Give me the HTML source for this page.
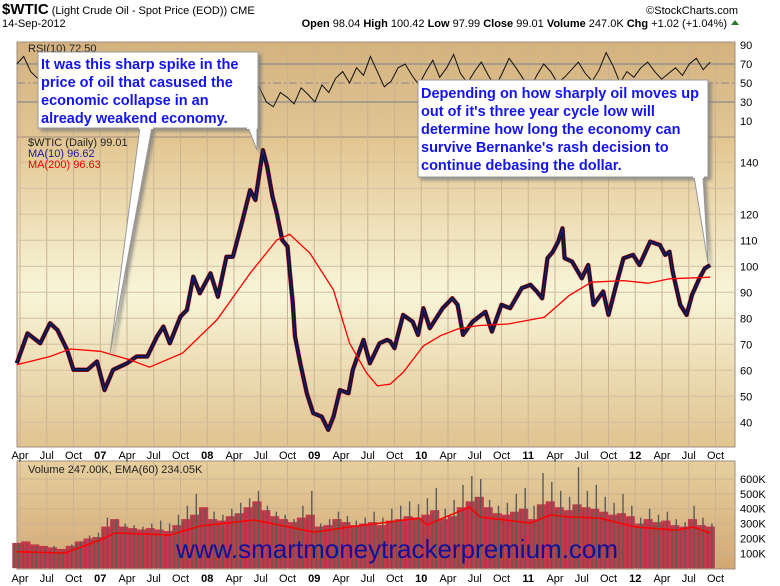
<!DOCTYPE html>
<html><head><meta charset="utf-8"><style>
body{margin:0;background:#fff;width:780px;height:586px;overflow:hidden;font-family:"Liberation Sans",sans-serif}
svg{display:block}
.t{font-family:"Liberation Sans",sans-serif;font-size:11px;fill:#000}
.b{font-weight:bold}
.call{font-family:"Liberation Sans",sans-serif;font-weight:bold;font-size:14.5px;fill:#1414f0}
</style></head><body>
<svg id="c" width="780" height="586" xmlns="http://www.w3.org/2000/svg">
<defs>
<linearGradient id="gR" x1="0" y1="0" x2="0" y2="1"><stop offset="0" stop-color="#d4b27e"/><stop offset="1" stop-color="#e0c595"/></linearGradient>
<linearGradient id="gP" x1="0" y1="0" x2="0" y2="1"><stop offset="0" stop-color="#e2c590"/><stop offset="0.5" stop-color="#f8f5d8"/><stop offset="1" stop-color="#e0c390"/></linearGradient>
<linearGradient id="gV" x1="0" y1="0" x2="0" y2="1"><stop offset="0" stop-color="#e6cf9f"/><stop offset="1" stop-color="#d2a874"/></linearGradient>
<filter id="sh" x="-5%" y="-5%" width="115%" height="120%"><feDropShadow dx="3" dy="3" stdDeviation="1.5" flood-color="#777" flood-opacity="0.7"/></filter>
</defs>
<g id="head">
<text x="2" y="14" class="t"><tspan style="font-size:15px;font-weight:bold">$WTIC</tspan><tspan font-size="11"> (Light Crude Oil - Spot Price (EOD)) CME</tspan></text>
<text x="2" y="27" class="t">14-Sep-2012</text>
<text x="738" y="14" class="t" text-anchor="end" fill="#555">©StockCharts.com</text>
<text x="727" y="27" class="t" text-anchor="end"><tspan class="b">Open</tspan> 98.04 <tspan class="b">High</tspan> 100.42 <tspan class="b">Low</tspan> 97.99 <tspan class="b">Close</tspan> 99.01 <tspan class="b">Volume</tspan> 247.0K <tspan class="b">Chg</tspan> +1.02 (+1.04%)</text>
<polygon points="731,25 739,25 735,20" fill="#2a7a2a"/>
</g>
<rect x="17" y="42" width="718" height="95" fill="url(#gR)" stroke="#a08c80"/>
<rect x="17" y="137" width="718" height="310" fill="url(#gP)" stroke="#a08c80"/>
<rect x="17" y="461" width="718" height="108" fill="url(#gV)" stroke="#a08c80"/>
<g id="grid"></g><g id="marks"></g><g id="labels"></g>
<g id="callouts">
<g filter="url(#sh)">
<polygon points="140,127 152,127 110,354" fill="#fff" stroke="#999"/>
<polygon points="248,127 257,127 257,150" fill="#fff" stroke="#999"/>
<rect x="38" y="52" width="220" height="76" fill="#fff" stroke="#999"/>
</g>
<rect x="139" y="126" width="14" height="3" fill="#fff"/><rect x="247" y="126" width="10" height="3" fill="#fff"/>
<text class="call"><tspan x="41" y="69">It was this sharp spike in the</tspan><tspan x="41" y="87">price of oil that casused the</tspan><tspan x="41" y="105">economic collapse in an</tspan><tspan x="41" y="123">already weakend economy.</tspan></text>
<g filter="url(#sh)">
<polygon points="694,176 703,176 708,263" fill="#fff" stroke="#999"/>
<rect x="418" y="80" width="290" height="97" fill="#fff" stroke="#999"/>
</g>
<rect x="693" y="175" width="11" height="3" fill="#fff"/>
<text class="call"><tspan x="421" y="98">Depending on how sharply oil moves up</tspan><tspan x="421" y="116">out of it's three year cycle low will</tspan><tspan x="421" y="134">determine how long the economy can</tspan><tspan x="421" y="152">survive Bernanke's rash decision to</tspan><tspan x="421" y="170">continue debasing the dollar.</tspan></text>
</g>
<text x="397" y="558" text-anchor="middle" style="font-family:'Liberation Sans',sans-serif;font-size:26px" fill="#10109a">www.smartmoneytrackerpremium.com</text>
</svg>
<script>
// ---- data ----
const priceDates=[2006.22,2006.32,2006.44,2006.53,2006.60,2006.69,2006.75,2006.88,2006.97,2007.04,2007.12,2007.25,2007.34,2007.44,2007.53,2007.59,2007.65,2007.75,2007.81,2007.87,2007.93,2008.03,2008.10,2008.18,2008.24,2008.33,2008.40,2008.45,2008.52,2008.56,2008.61,2008.65,2008.70,2008.75,2008.77,2008.80,2008.82,2008.87,2008.93,2008.99,2009.07,2009.13,2009.18,2009.24,2009.32,2009.36,2009.46,2009.52,2009.61,2009.68,2009.71,2009.75,2009.83,2009.92,2009.97,2010.02,2010.08,2010.20,2010.29,2010.34,2010.39,2010.48,2010.60,2010.66,2010.75,2010.83,2010.94,2011.02,2011.08,2011.13,2011.18,2011.23,2011.28,2011.32,2011.34,2011.41,2011.50,2011.56,2011.61,2011.70,2011.75,2011.83,2011.89,2011.98,2012.04,2012.14,2012.23,2012.28,2012.32,2012.35,2012.42,2012.48,2012.53,2012.60,2012.65,2012.70];
const priceValues=[62.7,74.2,70.4,78.1,75.5,67.9,60.2,60.2,63.4,52.4,60.2,62.7,65.3,65.3,73,76.8,70.4,80.7,83.2,96,89.6,97.3,88.3,103.7,103.7,117.8,129.3,125.5,144.7,138.3,126.8,120.4,110.1,107.6,98.6,85.8,73,62.7,51.2,43.5,42.2,37.1,42.2,52.4,51.2,60.2,71.7,62.7,70.4,71.7,71.1,68.5,81.3,78.7,73.6,83.9,76.2,83.9,87.7,85.2,73.6,78.7,82.5,74.9,85.2,83.9,91.6,92.9,90.3,87.7,103.1,105.6,109.5,114.6,103.1,101.8,95.4,100.5,85.2,90.3,81.3,94.1,103.1,104.4,100.5,109.5,108.2,104.4,105.6,97.9,85.2,81.3,89,95.4,99.2,100.5];
const ma200Dates=[2006.22,2006.53,2006.72,2007.00,2007.28,2007.46,2007.77,2008.09,2008.40,2008.65,2008.77,2008.96,2009.18,2009.33,2009.49,2009.59,2009.71,2009.83,2010.02,2010.18,2010.34,2010.53,2010.81,2011.15,2011.38,2011.59,2011.89,2012.12,2012.32,2012.70];
const ma200Values=[62.1,65.3,68.2,67.3,64,61.2,66.6,79.4,97.3,110.1,112.3,105,90.9,70.4,58.9,54,54.7,59.2,69.4,73.3,75.9,77.2,77.8,80.4,88.7,93.9,94.5,93.5,95.2,95.8];
const rsiValues=[70,78,62,55,48,45,38,52,60,66,58,50,62,70,55,45,60,72,66,55,48,40,58,70,62,52,66,78,70,60,50,62,74,66,58,45,30,25,40,35,28,45,38,30,48,40,55,62,50,66,58,78,62,46,52,66,70,58,48,62,74,56,66,80,60,50,62,72,58,46,60,76,66,55,44,58,70,62,50,56,64,72,60,52,64,82,68,50,62,56,66,72,62,54,60,66,58,70,76,64,72];
const volValues=[140,150,130,120,110,100,120,150,170,180,250,300,250,240,230,240,230,220,260,300,330,380,300,290,320,340,380,420,360,320,300,280,310,330,250,260,300,280,260,270,280,260,290,300,320,310,330,360,300,320,380,420,450,380,340,330,350,370,300,400,420,380,360,400,380,370,350,330,340,320,270,300,280,290,260,250,300,260,250];
const volSpikes=[170,160,150,140,150,120,160,180,220,240,340,330,300,290,280,300,320,300,360,420,500,400,380,360,400,440,470,520,420,380,360,330,420,520,300,330,380,350,320,340,380,340,400,420,450,430,470,540,400,460,560,620,600,460,420,440,500,540,420,640,580,520,480,680,520,560,480,440,500,420,340,400,360,380,330,310,420,340,300];
const emaDates=[2006.22,2006.67,2007.00,2007.14,2007.65,2007.93,2008.44,2009.00,2009.33,2009.98,2010.05,2010.45,2010.55,2011.02,2011.21,2011.39,2011.67,2012.00,2012.38,2012.54,2012.70];
const emaValues=[111,102,190,237,223,284,324,243,277,337,291,411,344,304,358,344,337,277,256,277,236];
const qLabels=['Apr','Jul','Oct','07','Apr','Jul','Oct','08','Apr','Jul','Oct','09','Apr','Jul','Oct','10','Apr','Jul','Oct','11','Apr','Jul','Oct','12','Apr','Jul','Oct'];
const rsiTicks=[90,70,50,30,10];
const priceTicks=[140,130,120,110,100,90,80,70,60,50,40];
const volTicks=[600,500,400,300,200,100];

// ---- scales ----
const X=t=>20+(t-2006.25)*107;
const YR=v=>83-(v-50)*0.95;
const YP=v=>422.3-(v-40)*2.6;
const YV=v=>568.2-v*0.1487;
const NS='http://www.w3.org/2000/svg';
function mk(parent,tag,attrs){const e=document.createElementNS(NS,tag);for(const k in attrs)e.setAttribute(k,attrs[k]);document.getElementById(parent).appendChild(e);return e;}

// grid
qLabels.forEach((lab,i)=>{
  const x=X(2006.25+i*0.25);
  [[42,137],[137,447],[461,569]].forEach(r=>{
    const l=mk('grid','line',{x1:x,x2:x,y1:r[0],y2:r[1],stroke:'#c9b393','stroke-width':1});
    
    
  });
  [455,578].forEach(y=>{
    const t=mk('labels','text',{x:x,y:y+4,'text-anchor':'middle',class:'t'+(/^\d/.test(lab)?' b':'')});
    t.textContent=lab;
    
    
  });
});
rsiTicks.forEach(v=>{
  const y=YR(v);
  if(v==70||v==30){const l=mk('grid','line',{x1:17,x2:735,y1:y,y2:y,stroke:'#8a8a8a','stroke-width':1.3});}
  if(v==50){const l=mk('grid','line',{x1:17,x2:735,y1:y,y2:y,stroke:'#8a8a8a','stroke-dasharray':'8,3,2,3'});}
  const t=mk('labels','text',{x:740,y:y+4,class:'t'});t.textContent=v;
  
});
priceTicks.forEach(v=>{
  const y=YP(v);
  const l=mk('grid','line',{x1:17,x2:735,y1:y,y2:y,stroke:'#d2bfa0','stroke-width':1});
  
  if(v!=130){const t=mk('labels','text',{x:740,y:y+4,class:'t'});t.textContent=v;
  }
});
volTicks.forEach(v=>{
  const y=YV(v);
  const l=mk('grid','line',{x1:17,x2:735,y1:y,y2:y,stroke:'#ccb38f','stroke-width':1});
  
  const t=mk('labels','text',{x:740,y:y+4,class:'t'});t.textContent=v+'K';
  
});

// RSI line
const rsiStep=(X(2012.70)-X(2006.22))/(rsiValues.length-1);
const rp=rsiValues.map((v,i)=>(X(2006.22)+i*rsiStep).toFixed(1)+','+YR(v).toFixed(1)).join(' ');
const rl=mk('marks','polyline',{points:rp,fill:'none',stroke:'#111','stroke-width':1});


// price
const pp=priceDates.map((d,i)=>X(d).toFixed(1)+','+YP(priceValues[i]).toFixed(1)).join(' ');
const p1=mk('marks','polyline',{points:pp,fill:'none',stroke:'#c8143c','stroke-width':4.5,'stroke-linejoin':'round'});

const p2=mk('marks','polyline',{points:pp,fill:'none',stroke:'#111','stroke-width':3.5,'stroke-linejoin':'round'});

const p3=mk('marks','polyline',{points:pp,fill:'none',stroke:'#1c1c9a','stroke-width':1,'stroke-linejoin':'round'});

const mp=ma200Dates.map((d,i)=>X(d).toFixed(1)+','+YP(ma200Values[i]).toFixed(1)).join(' ');
const m2=mk('marks','polyline',{points:mp,fill:'none',stroke:'#f00','stroke-width':1.3});


// volume
const vStep=(X(2012.70)-X(2006.22))/(volValues.length-1);
volValues.forEach((v,i)=>{
  const x=X(2006.22)+i*vStep;
  const r=mk('marks','rect',{x:(x-vStep/2).toFixed(1),y:YV(v+30).toFixed(1),width:(vStep+0.3).toFixed(1),height:(568.2-YV(v+30)).toFixed(1),fill:'#c23a4a'});
  
  const s=mk('marks','rect',{x:(x+1).toFixed(1),y:YV(volSpikes[i]).toFixed(1),width:1.4,height:(568.2-YV(volSpikes[i])).toFixed(1),fill:'#5a5a5a'});
  
  const s2=mk('marks','rect',{x:(x-3).toFixed(1),y:YV(v+10).toFixed(1),width:1,height:(568.2-YV(v+10)).toFixed(1),fill:'#6a5050'});
  
});
const ep=emaDates.map((d,i)=>X(d).toFixed(1)+','+YV(emaValues[i]).toFixed(1)).join(' ');
const el=mk('marks','polyline',{points:ep,fill:'none',stroke:'#f00','stroke-width':1.5});


// legends
const legs=[[20,52,'RSI(10) 72.50','#222','rsi-legend'],[20,146,'$WTIC (Daily) 99.01','#222','price-legend'],[28,157,'MA(10) 96.62','#1c1c9a','ma10-legend'],[28,168,'MA(200) 96.63','#e00','ma200-legend'],[28,473,'Volume 247.00K, EMA(60) 234.05K','#222','volume-legend']];
legs.forEach(a=>{
  const t=mk('labels','text',{x:a[0]+(a[0]==20?8:0),y:a[1],class:'t',fill:a[3]});
  t.style.fill=a[3];t.textContent=a[2];
  
});
</script>
</body></html>
